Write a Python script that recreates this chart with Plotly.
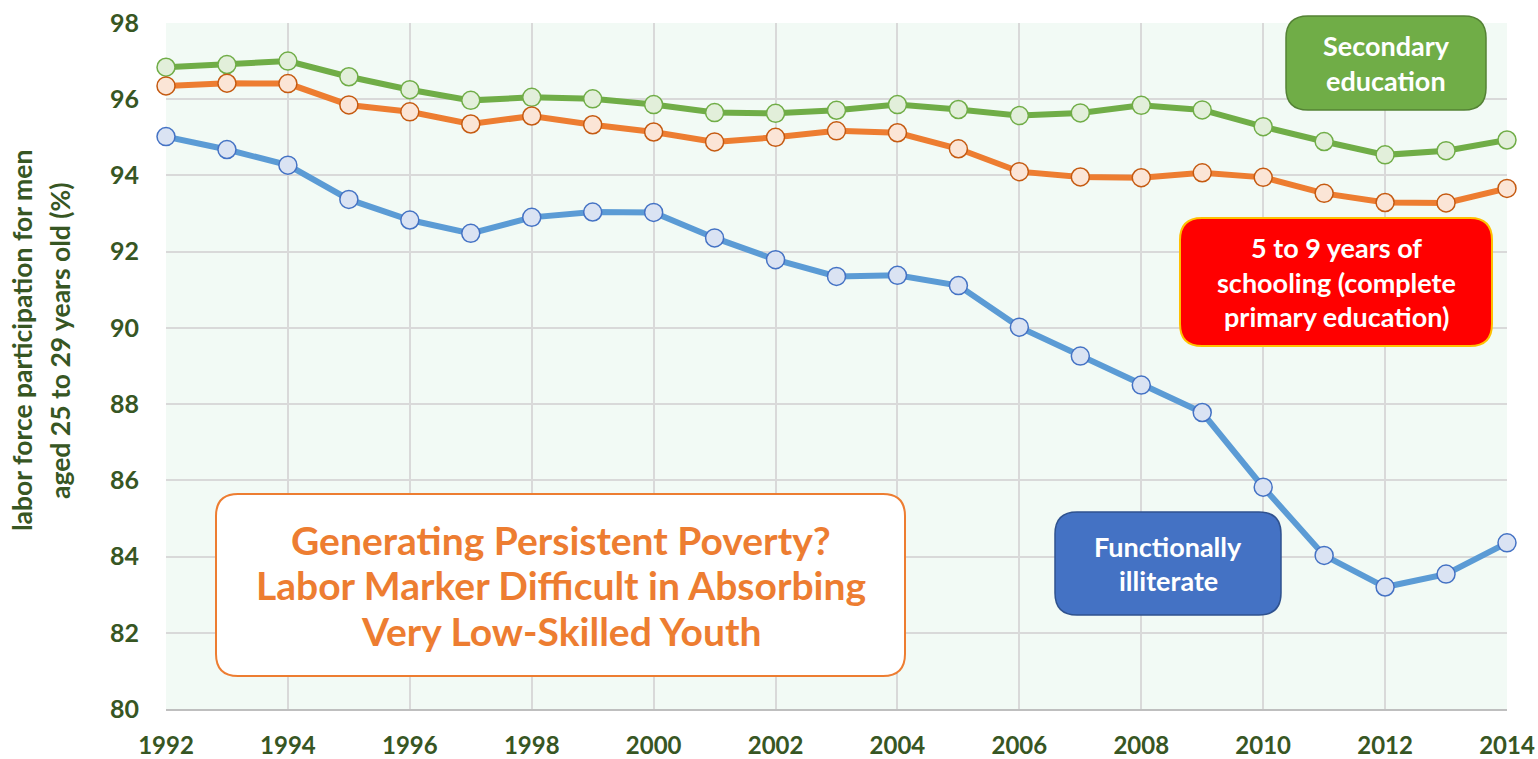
import plotly.graph_objects as go

years = list(range(1992, 2015))
secondary = [96.84, 96.91, 97.00, 96.59, 96.25, 95.97, 96.05, 96.01, 95.86, 95.65, 95.63, 95.71,
             95.86, 95.73, 95.57, 95.64, 95.84, 95.72, 95.28, 94.89, 94.54, 94.65, 94.93]
primary = [96.35, 96.42, 96.41, 95.85, 95.67, 95.35, 95.56, 95.33, 95.14, 94.88, 95.00, 95.17,
           95.12, 94.70, 94.10, 93.96, 93.94, 94.07, 93.95, 93.53, 93.29, 93.28, 93.66]
illiterate = [95.02, 94.68, 94.27, 93.37, 92.83, 92.48, 92.90, 93.04, 93.03, 92.36, 91.79, 91.35,
              91.38, 91.11, 90.02, 89.26, 88.50, 87.78, 85.82, 84.03, 83.20, 83.54, 84.36]
y_ticks = [80, 82, 84, 86, 88, 90, 92, 94, 96, 98]
x_ticks = list(range(1992, 2015, 2))

W, H = 1538, 759
ML, MR, MT, MB = 166, 31, 23, 50
PW, PH = W - ML - MR, H - MT - MB

def px2paper(x, y):
    return (x - ML) / PW, (H - MB - y) / PH

def rounded_path(x0, y0, x1, y1, r):
    rx, ry = r / PW, r / PH
    X0, Y1 = px2paper(x0, y0)
    X1, Y0 = px2paper(x1, y1)
    return (f"M {X0+rx},{Y0} L {X1-rx},{Y0} Q {X1},{Y0} {X1},{Y0+ry} "
            f"L {X1},{Y1-ry} Q {X1},{Y1} {X1-rx},{Y1} L {X0+rx},{Y1} "
            f"Q {X0},{Y1} {X0},{Y1-ry} L {X0},{Y0+ry} Q {X0},{Y0} {X0+rx},{Y0} Z")

FONT = "Lato, 'Open Sans', sans-serif"
DG = "#375623"

fig = go.Figure()
series = [
    ("Secondary education", secondary, "#70AD47", "#E2EFDA", "#70AD47"),
    ("5 to 9 years of schooling", primary, "#ED7D31", "#FBE5D6", "#C55A11"),
    ("Functionally illiterate", illiterate, "#5B9BD5", "#DAE3F3", "#4472C4"),
]
for name, vals, lc, mf, mc in series:
    fig.add_trace(go.Scatter(
        x=years, y=vals, name=name, mode="lines+markers",
        line=dict(color=lc, width=6),
        marker=dict(size=18, color=mf, line=dict(color=mc, width=1.5)),
        cliponaxis=False, showlegend=False))

boxes = [
    # (x0, y0, x1, y1, fill, border, bw, lines, color, size, pitch)
    (1286, 16, 1486, 110, "#70AD47", "#548235", 1.5,
     ["Secondary", "education"], "white", 27, 35),
    (1180, 218, 1492, 346, "#FF0000", "#FFC000", 2,
     ["5 to 9 years of", "schooling (complete", "primary education)"], "white", 27, 34.5),
    (1055, 512, 1281, 615, "#4472C4", "#2F528F", 1.5,
     ["Functionally", "illiterate"], "white", 27, 34),
    (216, 494, 905, 676, "white", "#ED7D31", 2,
     ["Generating Persistent Poverty?", "Labor Marker Difficult in Absorbing",
      "Very Low-Skilled Youth"], "#ED7D31", 39, 45.5),
]
shapes = []
annotations = []
for x0, y0, x1, y1, fill, border, bw, lines, tc, sz, pitch in boxes:
    shapes.append(dict(type="path", xref="paper", yref="paper",
                       path=rounded_path(x0, y0, x1, y1, 22),
                       fillcolor=fill, line=dict(color=border, width=bw), layer="above"))
    cxp = (x0 + x1) / 2
    cyp = (y0 + y1) / 2
    n = len(lines)
    for i, ln in enumerate(lines):
        ly = cyp + (i - (n - 1) / 2) * pitch
        cx, cy = px2paper(cxp, ly)
        annotations.append(dict(x=cx, y=cy, xref="paper", yref="paper", text=f"<b>{ln}</b>",
                                showarrow=False, xanchor="center", yanchor="middle",
                                font=dict(family=FONT, size=sz, color=tc)))

for ln, xpix in [("labor force participation for men", 22), ("aged 25 to 29 years old (%)", 60)]:
    tx, ty = px2paper(xpix, 341)
    annotations.append(dict(x=tx, y=ty, xref="paper", yref="paper", textangle=-90,
                            text=f"<b>{ln}</b>", showarrow=False,
                            xanchor="center", yanchor="middle",
                            font=dict(family=FONT, size=26.5, color=DG)))

fig.update_layout(
    width=W, height=H, margin=dict(l=ML, r=MR, t=MT, b=MB, autoexpand=False),
    paper_bgcolor="white", plot_bgcolor="#F2FAF5",
    shapes=shapes, annotations=annotations,
    xaxis=dict(range=[1992, 2014], tickvals=x_ticks, ticktext=[f"<b>{v}</b>" for v in x_ticks],
               showgrid=True, gridcolor="#D9D9D9", gridwidth=1.5, zeroline=False,
               showline=True, linecolor="#BFBFBF", linewidth=1.5, ticks="",
               ticklabelstandoff=14, automargin=False,
               tickfont=dict(family=FONT, size=24, color=DG)),
    yaxis=dict(range=[80, 98], tickvals=y_ticks, ticktext=[f"<b>{v}</b>" for v in y_ticks],
               showgrid=True, gridcolor="#D9D9D9", gridwidth=1.5, zeroline=False,
               showline=False, ticks="", ticklabelstandoff=26, automargin=False,
               tickfont=dict(family=FONT, size=25, color=DG)),
)

fig.write_html("out.html", config={"displayModeBar": False},
               post_script="document.body.style.margin='0px';")
